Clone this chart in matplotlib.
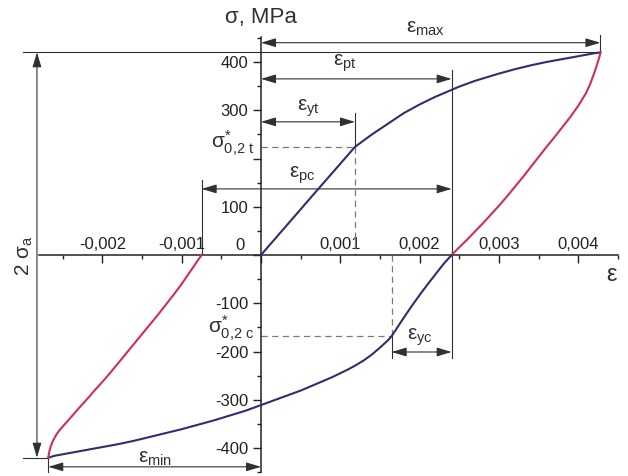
"""
Cyclic stress-strain loop with the characteristic strains and
stresses marked as dimension lines (sigma vs epsilon).
"""
import numpy as np
import matplotlib
matplotlib.use("Agg")
import matplotlib.pyplot as plt

plt.rcParams["font.family"] = ["Liberation Sans", "DejaVu Sans"]
plt.rcParams["mathtext.fontset"] = "custom"
plt.rcParams["mathtext.rm"] = "Liberation Sans"
plt.rcParams["mathtext.it"] = "Liberation Sans"
plt.rcParams["mathtext.bf"] = "Liberation Sans:bold"
plt.rcParams["axes.unicode_minus"] = False

# first loading in tension (blue)
eps_load = [0.0, 0.000723, 0.001185, 0.00130, 0.00140, 0.00150, 0.00160,
            0.00170, 0.00180, 0.00190, 0.00200, 0.00210, 0.00220, 0.00230,
            0.00240, 0.00250, 0.00260, 0.00270, 0.00280, 0.00290, 0.00300,
            0.00320, 0.00340, 0.00360, 0.00380, 0.00400, 0.00420, 0.00428]
sig_load = [0, 137, 224, 238, 250, 261, 272, 283, 294, 303, 312, 320, 328,
            335, 342, 349, 355, 361, 366, 371, 376, 385, 393, 400, 406, 412,
            418, 420]

# unloading from sigma_max down to zero stress (red)
eps_unload_t = [0.00428, 0.00427, 0.00424, 0.00420, 0.00415, 0.00410,
                0.00400, 0.00390, 0.00380, 0.00370, 0.00360, 0.00350,
                0.00340, 0.00330, 0.00320, 0.00310, 0.00300, 0.00290,
                0.00280, 0.00270, 0.00260, 0.00250, 0.002404]
sig_unload_t = [420, 412, 396, 376, 354, 336, 309, 286, 265, 244, 224, 203,
                182, 161, 141, 121, 102, 84, 66, 49, 32, 16, 0]

# loading in compression (blue)
eps_comp = [0.002404, 0.00230, 0.00220, 0.00210, 0.00200, 0.00190, 0.00180,
            0.00170, 0.001648, 0.00160, 0.00150, 0.00140, 0.00130, 0.00120,
            0.00110, 0.00100, 0.00090, 0.00080, 0.00070, 0.00060, 0.00050,
            0.00040, 0.00030, 0.00020, 0.00010, 0.0, -0.00020, -0.00040,
            -0.00060, -0.00080, -0.00100, -0.00120, -0.00140, -0.00160,
            -0.00180, -0.00200, -0.00220, -0.00240, -0.00260, -0.002682]
sig_comp = [0, -19, -40, -61, -83, -106, -130, -155, -168, -177, -192, -206,
            -218, -228, -237, -245, -253, -260, -267, -274, -281, -287, -293,
            -299, -305, -311, -323, -333, -343, -352, -361, -369, -377, -385,
            -392, -398, -404, -410, -416, -420]

# unloading from sigma_min back to zero stress (red)
eps_unload_c = [-0.002682, -0.00267, -0.00265, -0.00262, -0.00258, -0.00253,
                -0.00247, -0.00240, -0.00230, -0.00220, -0.00210, -0.00200,
                -0.00190, -0.00180, -0.00170, -0.00160, -0.00150, -0.00140,
                -0.00130, -0.00120, -0.00110, -0.00100, -0.00090, -0.00080,
                -0.000748]
sig_unload_c = [-420, -408, -396, -384, -372, -361, -350, -337, -318, -300,
                -281, -263, -244, -224, -204, -184, -164, -144, -124, -103,
                -82, -60, -36, -12, 0]

# characteristic points
eps_max, sig_max = 0.00428, 420
eps_min, sig_min = -0.002682, -420
eps_yt, sig_yt = 0.001185, 224
eps_c02, sig_c02 = 0.001648, -168
eps_pt = 0.002404
eps_pc0 = -0.000748

x_ticks = [-0.002, -0.001, 0.0, 0.001, 0.002, 0.003, 0.004]
x_labels = ["-0,002", "-0,001", "", "0,001", "0,002", "0,003", "0,004"]
y_ticks = [-400, -300, -200, -100, 0, 100, 200, 300, 400]
y_labels = ["-400", "-300", "-200", "-100", "", "100", "", "300", "400"]

BLUE = "#2d2f6e"
RED = "#cf2f57"
INK = "#303030"
DASH = "#7a7a7a"


def dim_arrow(ax, p0, p1):
    ax.annotate("", xy=p1, xytext=p0,
                arrowprops=dict(arrowstyle="<|-|>,head_length=0.9,head_width=0.27",
                                color=INK, lw=0.8, shrinkA=0, shrinkB=0,
                                mutation_scale=10))


def line(ax, xs, ys, dashed=False):
    if dashed:
        ax.plot(xs, ys, color=DASH, lw=0.9, linestyle=(0, (5, 3.5)))
    else:
        ax.plot(xs, ys, color=INK, lw=0.8)


fig = plt.figure(figsize=(6.28, 4.76), dpi=100)
ax = fig.add_axes([0, 0, 1, 1])
ax.set_xlim(-0.003291, 0.004628)
ax.set_ylim(-458, 528.5)

# axes through the origin
ax.spines["bottom"].set_visible(False)
ax.spines["right"].set_visible(False)
ax.spines["top"].set_position(("data", 0))
ax.spines["left"].set_position(("data", 0))
ax.spines["top"].set_bounds(-0.0028, 0.0045)
ax.spines["left"].set_bounds(-450, 452)
for s in ("top", "left"):
    ax.spines[s].set_linewidth(1.1)
    ax.spines[s].set_color("#222222")

ax.xaxis.set_ticks_position("top")
ax.set_xticks(x_ticks, x_labels)
ax.set_xticks(np.arange(-0.0025, 0.0046, 0.001), minor=True)
ax.set_yticks(y_ticks, y_labels)
ax.set_yticks(np.arange(-450, 451, 100), minor=True)
ax.tick_params(axis="x", which="both", direction="in", pad=2, labelsize=12,
               colors="#222222", width=1.0)
ax.tick_params(axis="y", which="both", direction="out", pad=3, labelsize=12,
               colors="#222222", width=1.0)
ax.tick_params(which="major", length=6)
ax.tick_params(which="minor", length=3)
ax.annotate("0", xy=(0, 0), xytext=(-11.5, 7), textcoords="offset points",
            ha="right", va="center", fontsize=12, color="#222222")

# the loop
ax.plot(eps_load, sig_load, color=BLUE, lw=1.5, zorder=4)
ax.plot(eps_unload_t, sig_unload_t, color=RED, lw=1.5, zorder=4)
ax.plot(eps_comp, sig_comp, color=BLUE, lw=1.5, zorder=4)
ax.plot(eps_unload_c, sig_unload_c, color=RED, lw=1.5, zorder=4)

# extension lines
line(ax, [-0.003001, eps_max], [sig_max, sig_max])
line(ax, [-0.003001, eps_min], [sig_min, sig_min])
line(ax, [eps_max, eps_max], [sig_max, 455])
line(ax, [eps_min, eps_min], [sig_min, -450])
line(ax, [eps_pt, eps_pt], [383, -213])
line(ax, [eps_yt, eps_yt], [294, sig_yt])
line(ax, [eps_pc0, eps_pc0], [155, 0])
line(ax, [eps_c02, eps_c02], [sig_c02, -213])
line(ax, [eps_yt, eps_yt], [sig_yt, 0], dashed=True)
line(ax, [0, eps_yt], [sig_yt, sig_yt], dashed=True)
line(ax, [eps_c02, eps_c02], [0, sig_c02], dashed=True)
line(ax, [0, eps_c02], [sig_c02, sig_c02], dashed=True)

# dimension arrows
dim_arrow(ax, (0, 440), (eps_max, 440))
dim_arrow(ax, (0, 365), (eps_pt, 365))
dim_arrow(ax, (0, 276), (eps_yt, 276))
dim_arrow(ax, (eps_pc0, 137), (eps_pt, 137))
dim_arrow(ax, (eps_c02, -201), (eps_pt, -201))
dim_arrow(ax, (eps_min, -439), (0, -439))
dim_arrow(ax, (-0.002825, sig_max), (-0.002825, sig_min))

lab = dict(fontsize=15, color=INK, ha="center", va="center")
ax.text(0.002068, 470, r"$ε_{max}$", **lab)
ax.text(0.00106, 398, r"$ε_{pt}$", **lab)
ax.text(0.000593, 305, r"$ε_{yt}$", **lab)
ax.text(0.000517, 166, r"$ε_{pc}$", **lab)
ax.text(0.002005, -170, r"$ε_{yc}$", **lab)
ax.text(-0.001337, -421, r"$ε_{min}$", **lab)
ax.text(0.004426, -41, "ε", fontsize=17, color=INK, ha="center", va="center")
ax.text(0.0, 493, "σ, MPa", fontsize=16, color=INK, ha="center", va="center")
ax.text(-0.00009, 231, r"$σ^{*}_{0{,}2\ t}$", fontsize=15, color=INK,
        ha="right", va="center")
ax.text(-0.00009, -153, r"$σ^{*}_{0{,}2\ c}$", fontsize=15, color=INK,
        ha="right", va="center")
ax.text(-0.002989, -2, r"2 $σ_{a}$", fontsize=15, color=INK, rotation=90,
        ha="center", va="center")

fig.savefig("out.png", dpi=100)
